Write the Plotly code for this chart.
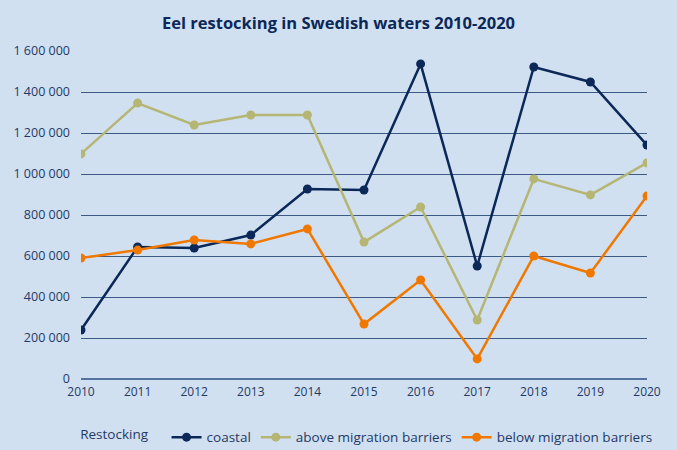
import plotly.graph_objects as go

years = list(range(2010, 2021))
coastal = [239000, 644000, 639000, 702000, 927000, 922000, 1537000, 551000, 1522000, 1449000, 1141000]
above = [1098000, 1346000, 1239000, 1288000, 1288000, 668000, 839000, 288000, 976000, 898000, 1054000]
below = [590000, 629000, 678000, 659000, 732000, 268000, 483000, 98000, 600000, 517000, 893000]

bg = '#d1e0f0'
navy = '#0b2858'
font_fam = 'Open Sans, Noto Sans, sans-serif'

series = [
    ('coastal', coastal, navy),
    ('above migration barriers', above, '#b5b574'),
    ('below migration barriers', below, '#f07800'),
]

fig = go.Figure()
for name, vals, col in series:
    fig.add_trace(go.Scatter(x=years, y=vals, name=name, mode='lines+markers',
                             line=dict(color=col, width=2.5),
                             marker=dict(color=col, size=9)))

fig.update_layout(
    width=677, height=450,
    paper_bgcolor=bg, plot_bgcolor=bg,
    margin=dict(l=81, r=30, t=51, b=71, autoexpand=False),
    separators='. ',
    font=dict(family=font_fam, color='#1f3a66', size=12),
    title=dict(text='<b>Eel restocking in Swedish waters 2010-2020</b>', x=0.5, xanchor='center',
               y=0.948, yanchor='middle',
               font=dict(size=16.5, color='#0b2858', family=font_fam)),
    xaxis=dict(range=[2010, 2020], tickvals=years, showgrid=False, zeroline=False,
               showline=False, ticks='', ticklabelstandoff=4, tickfont=dict(size=12)),
    yaxis=dict(range=[0, 1600000], dtick=200000, tickformat=',d', showgrid=True,
               gridcolor='#3d5a85', gridwidth=1, zeroline=True, zerolinecolor='#5573a0',
               zerolinewidth=2, ticks='', ticklabelstandoff=10, tickfont=dict(size=12.5)),
    legend=dict(orientation='h', x=-0.005, xanchor='left', y=-0.178, yanchor='middle',
                title=dict(text='Restocking   ', font=dict(size=13.5)),
                font=dict(size=13.5), bgcolor='rgba(0,0,0,0)', itemwidth=30,
                tracegroupgap=0),
    showlegend=True,
)

# drop the default page margin so the figure fills the window
fig.write_html("out.html", config={'displayModeBar': False},
               post_script="document.body.style.margin='0';")
